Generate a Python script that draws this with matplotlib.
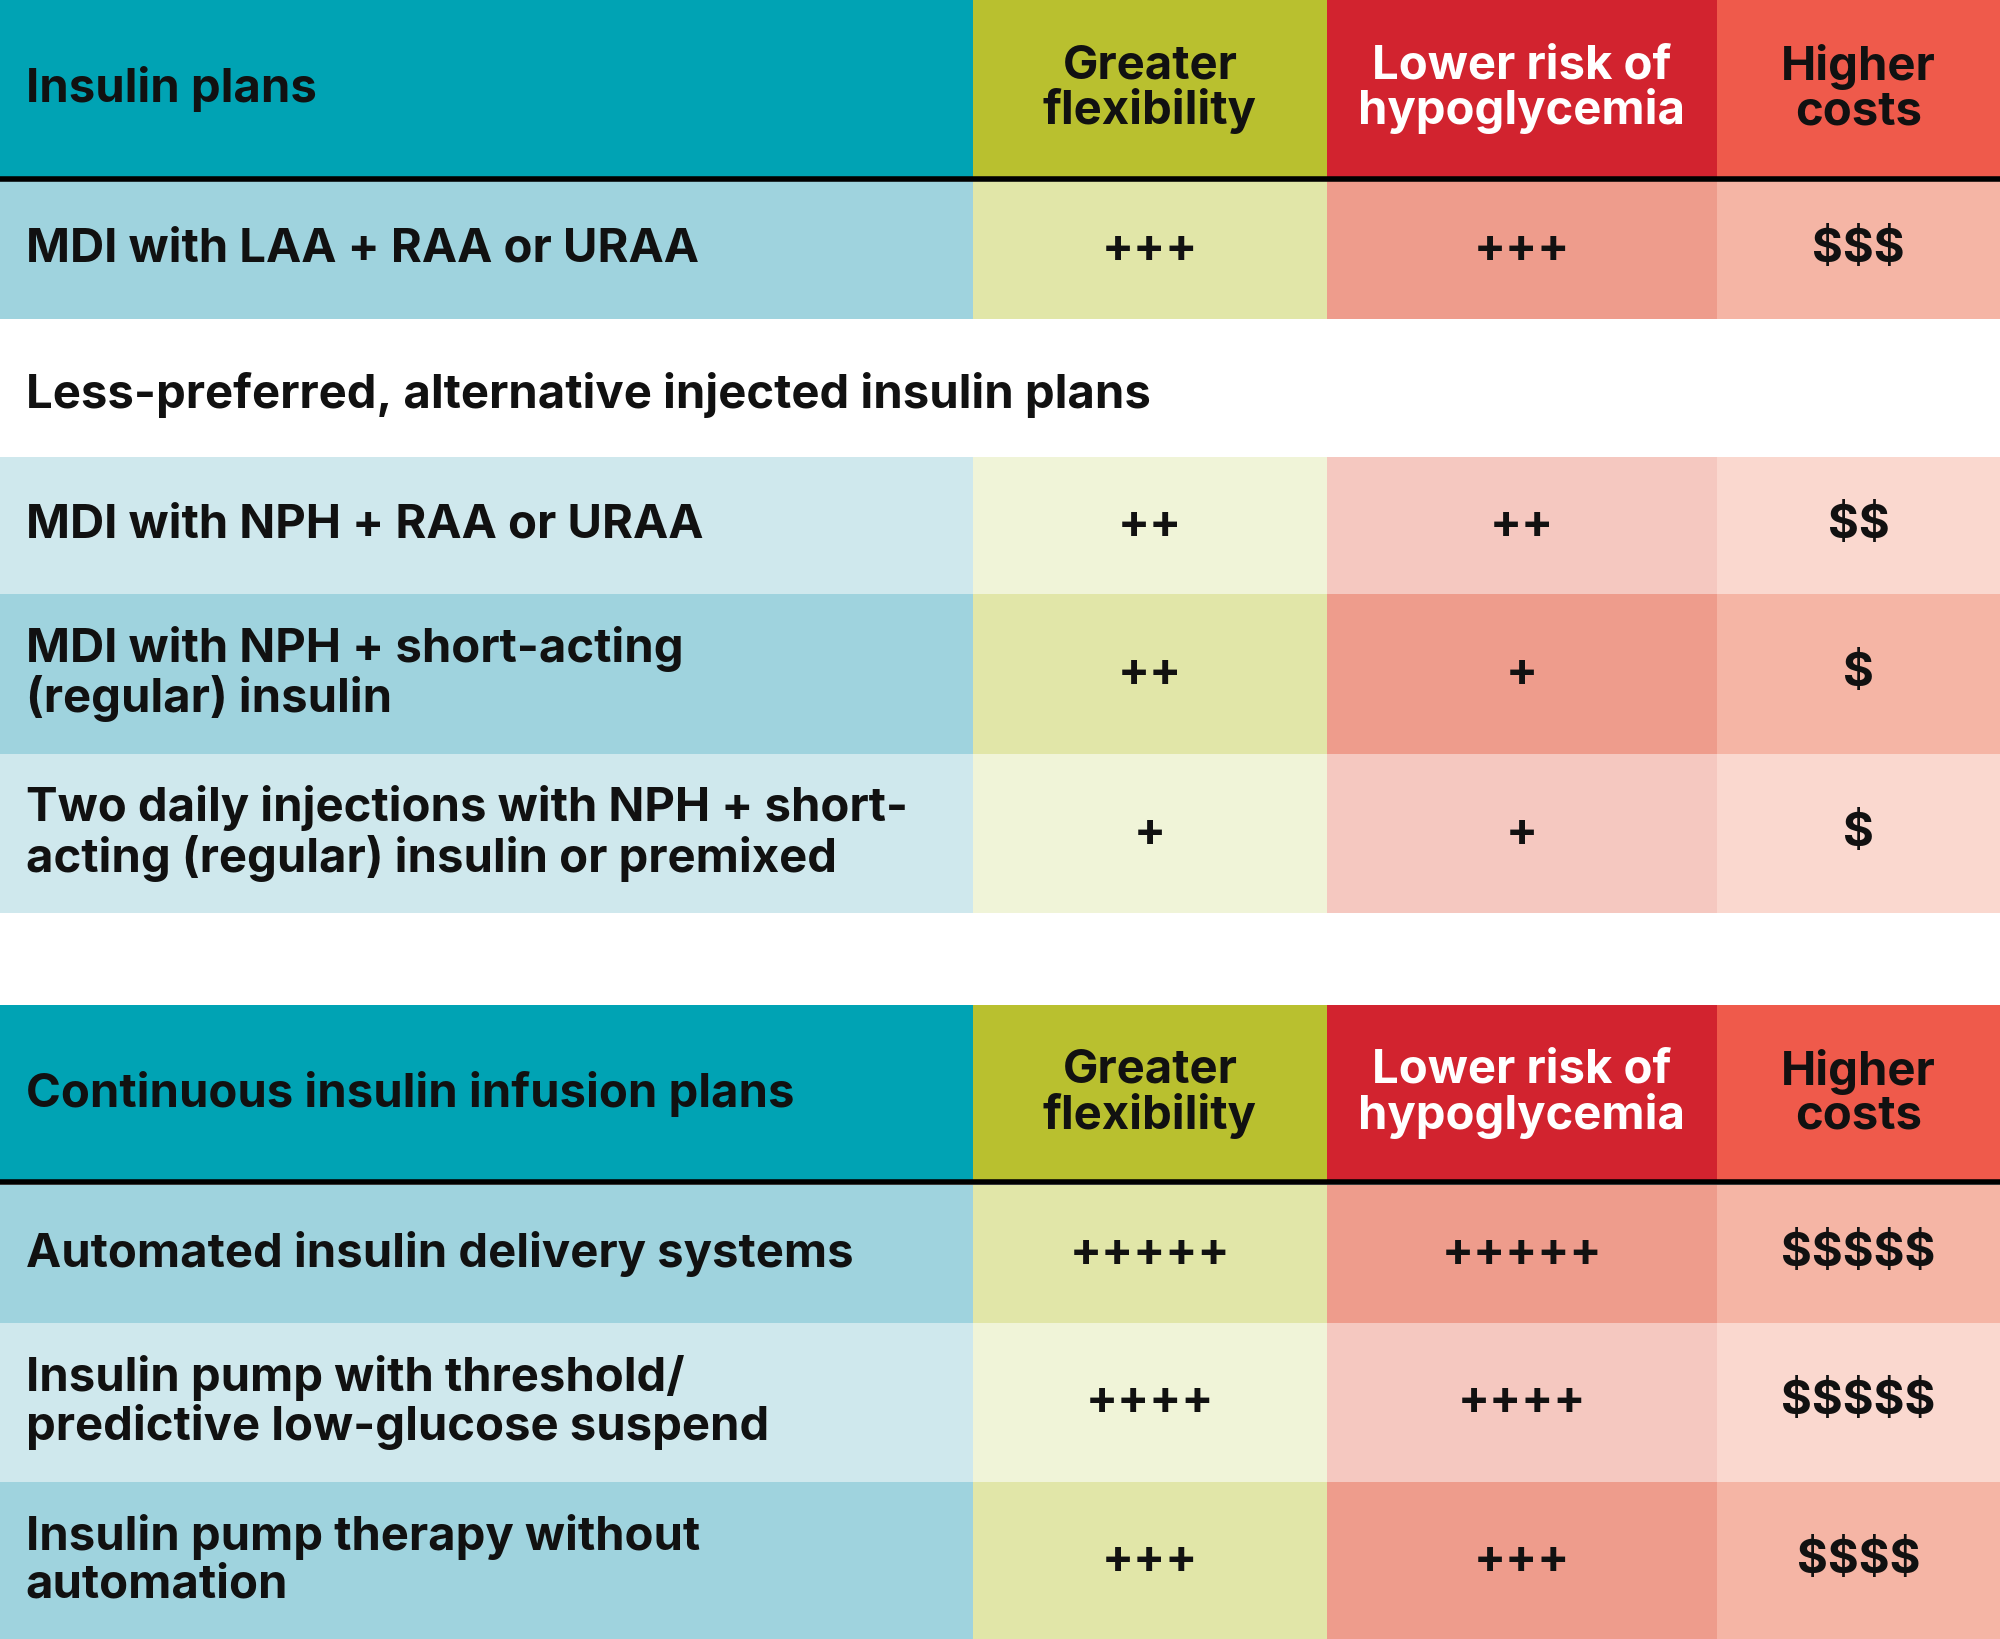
import matplotlib.pyplot as plt
from matplotlib.patches import Rectangle

plt.rcParams["font.family"] = ["Inter", "DejaVu Sans"]
plt.rcParams["text.parse_math"] = False

header_cols = ["Greater\nflexibility", "Lower risk of\nhypoglycemia", "Higher\ncosts"]
section1_title = "Insulin plans"
section1_sub = "Less-preferred, alternative injected insulin plans"
section1_rows = [
    "MDI with LAA + RAA or URAA",
    "MDI with NPH + RAA or URAA",
    "MDI with NPH + short-acting\n(regular) insulin",
    "Two daily injections with NPH + short-\nacting (regular) insulin or premixed",
]
section1_flex = ["+++", "++", "++", "+"]
section1_hypo = ["+++", "++", "+", "+"]
section1_cost = ["$$$", "$$", "$", "$"]

section2_title = "Continuous insulin infusion plans"
section2_rows = [
    "Automated insulin delivery systems",
    "Insulin pump with threshold/\npredictive low-glucose suspend",
    "Insulin pump therapy without\nautomation",
]
section2_flex = ["+++++", "++++", "+++"]
section2_hypo = ["+++++", "++++", "+++"]
section2_cost = ["$$$$$", "$$$$$", "$$$$"]

# layout (in reference pixel units, 1568 x 1285)
W, H = 1568, 1285
col_x = [0, 763, 1040, 1346, 1568]
head_c = ["#00a3b4", "#b9c02f", "#d2232f", "#ef5a4b"]
dark_c = ["#9fd3de", "#e1e6a8", "#ee9c8c", "#f5b5a5"]
light_c = ["#cfe8ed", "#f0f4d8", "#f5c8c0", "#fad8cf"]

fig = plt.figure(figsize=(20, 16.39), dpi=100)
ax = fig.add_axes([0, 0, 1, 1])
ax.set_xlim(0, W)
ax.set_ylim(H, 0)
ax.axis("off")

FS = 34


def header(y0, y1, title):
    for i in range(4):
        ax.add_patch(Rectangle((col_x[i], y0), col_x[i + 1] - col_x[i], y1 - y0,
                               color=head_c[i], lw=0))
    yc = (y0 + y1) / 2
    ax.text(20, yc, title, fontsize=FS, fontweight="bold", va="center", color="#111")
    txt_c = ["#111", "white", "#111"]
    for i, h in enumerate(header_cols):
        ax.text((col_x[i + 1] + col_x[i + 2]) / 2, yc, h, fontsize=FS, fontweight="bold",
                ha="center", va="center", color=txt_c[i], linespacing=1.0)
    ax.plot([0, W], [y1, y1], color="black", lw=4, solid_capstyle="butt")


def row(y0, y1, label, flex, hypo, cost, dark):
    cols = dark_c if dark else light_c
    for i in range(4):
        ax.add_patch(Rectangle((col_x[i], y0), col_x[i + 1] - col_x[i], y1 - y0,
                               color=cols[i], lw=0))
    yc = (y0 + y1) / 2
    ax.text(20, yc, label, fontsize=FS, fontweight="bold", va="center", color="#111",
            linespacing=1.1)
    for i, v in enumerate([flex, hypo, cost]):
        ax.text((col_x[i + 1] + col_x[i + 2]) / 2, yc, v, fontsize=FS, fontweight="bold",
                ha="center", va="center", color="#111")


header(0, 140, section1_title)
s1_bounds = [(142, 250), (358, 466), (466, 591), (591, 716)]
s1_dark = [True, False, True, False]
for k in range(4):
    row(*s1_bounds[k], section1_rows[k], section1_flex[k], section1_hypo[k],
        section1_cost[k], s1_dark[k])
ax.text(20, 310, section1_sub, fontsize=FS, fontweight="bold", va="center", color="#111")

header(788, 927, section2_title)
s2_bounds = [(929, 1037), (1037, 1162), (1162, 1285)]
s2_dark = [True, False, True]
for k in range(3):
    row(*s2_bounds[k], section2_rows[k], section2_flex[k], section2_hypo[k],
        section2_cost[k], s2_dark[k])

fig.savefig("out.png", dpi=100, facecolor="white")
